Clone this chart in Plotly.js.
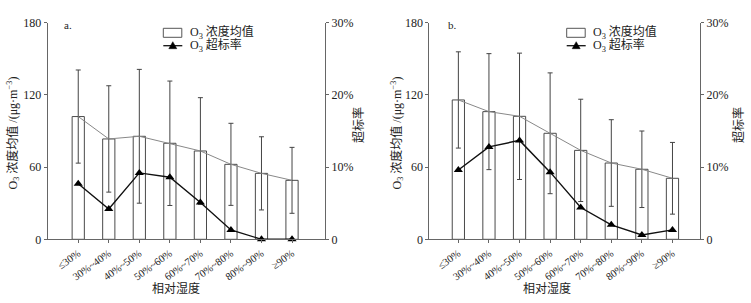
<!DOCTYPE html>
<html>
<head>
<meta charset="utf-8">
<script src="https://cdn.plot.ly/plotly-3.0.1.min.js"></script>
<style>html,body{margin:0;padding:0;background:#fff;}#chart{width:751px;height:303px;}</style>
</head>
<body>
<div id="chart"></div>
<script>
// ---- data ----
const categories = ["≤30%", "30%~40%", "40%~50%", "50%~60%", "60%~70%", "70%~80%", "80%~90%", "≥90%"];
// panel a
const meanA = [102.0, 83.4, 85.6, 79.8, 73.4, 62.3, 54.8, 49.0];
const sdA   = [38.7, 44.2, 55.6, 51.7, 44.3, 34.1, 30.4, 27.4];
const rateA = [7.7, 4.2, 9.2, 8.6, 5.1, 1.3, 0.0, 0.0];
// panel b
const meanB = [115.8, 106.1, 102.2, 88.1, 73.9, 63.4, 58.2, 50.7];
const sdB   = [40.0, 48.2, 52.5, 50.2, 42.5, 36.0, 31.8, 29.8];
const rateB = [9.6, 12.8, 13.7, 9.3, 4.4, 2.0, 0.6, 1.3];
// tick labels
const leftTicks = [0, 60, 120, 180];
const rightTickVals = [0, 10, 20, 30];
const rightTickText = ["0", "10%", "20%", "30%"];
const panelLabels = ["a.", "b."];
const legendTexts = ["O<sub>3</sub> 浓度均值", "O<sub>3</sub> 超标率"];
const yTitle = "O<sub>3</sub> 浓度均值 /(μg·m<sup>−3</sup>)";
const y2Title = "超标率";
const xTitle = "相对湿度";

// ---- layout helpers ----
const W = 751, H = 303;
const px = x => x / W;
const py = y => 1 - y / H;
const FONT = "Liberation Serif, 'Noto Sans CJK SC', serif";
const AX = "#666";

function panelTraces(mean, sd, rate, xa, ya, ya2) {
  return [
    {type: "bar", x: categories, y: mean, width: 0.4, xaxis: xa, yaxis: ya,
     marker: {color: "#fff", line: {color: "#4a4a4a", width: 1}},
     error_y: {type: "data", array: sd, visible: true, color: "#444", thickness: 1, width: 2.5},
     hoverinfo: "skip"},
    {type: "scatter", mode: "lines", x: categories, y: mean, xaxis: xa, yaxis: ya,
     line: {color: "#888", width: 1}, hoverinfo: "skip"},
    {type: "scatter", mode: "lines+markers", x: categories, y: rate, xaxis: xa, yaxis: ya2,
     line: {color: "#111", width: 1.4},
     marker: {symbol: "triangle-up", size: 8, color: "#000"}, cliponaxis: false, hoverinfo: "skip"}
  ];
}

const data = [
  ...panelTraces(meanA, sdA, rateA, "x", "y", "y2"),
  ...panelTraces(meanB, sdB, rateB, "x2", "y3", "y4")
];

const yDom = [py(239.3), py(22.7)];
function xAx(dom, anchor, range) {
  return {domain: dom, anchor: anchor, type: "category", range: range,
    showline: true, linecolor: AX, linewidth: 1, ticks: "outside", ticklen: 3, tickcolor: AX,
    tickangle: -36, tickfont: {family: FONT, size: 10.5, color: "#222"},
    showgrid: false, zeroline: false, automargin: false, fixedrange: true};
}
function yAx(anchor) {
  return {domain: yDom, anchor: anchor, range: [0, 180], tickvals: leftTicks,
    showline: true, linecolor: AX, linewidth: 1, ticks: "outside", ticklen: 3, tickcolor: AX,
    tickfont: {family: FONT, size: 12, color: "#222"},
    showgrid: false, zeroline: false, automargin: false};
}
function yAxR(anchor, over) {
  return {domain: yDom, anchor: anchor, overlaying: over, side: "right", range: [0, 30],
    tickvals: rightTickVals, ticktext: rightTickText,
    showline: true, linecolor: AX, linewidth: 1, ticks: "outside", ticklen: 3, tickcolor: AX,
    tickfont: {family: FONT, size: 12, color: "#222"},
    showgrid: false, zeroline: false, automargin: false};
}

const ann = [];
const shapes = [];
function panelDecor(label, labelX, legX, xTitleX, yTitleX, y2TitleX) {
  ann.push({xref: "paper", yref: "paper", x: px(labelX), y: py(25), text: label, showarrow: false,
    xanchor: "left", yanchor: "middle", font: {family: FONT, size: 11, color: "#222"}});
  ann.push({xref: "paper", yref: "paper", x: px(yTitleX), y: py(133.5), text: yTitle, showarrow: false,
    textangle: -90, xanchor: "center", yanchor: "middle", font: {family: FONT, size: 12, color: "#222"}});
  ann.push({xref: "paper", yref: "paper", x: px(y2TitleX), y: py(125), text: y2Title, showarrow: false,
    textangle: -90, xanchor: "center", yanchor: "middle", font: {family: FONT, size: 12, color: "#222"}});
  ann.push({xref: "paper", yref: "paper", x: px(xTitleX), y: py(288), text: xTitle, showarrow: false,
    xanchor: "center", yanchor: "middle", font: {family: FONT, size: 12, color: "#222"}});
  // legend
  shapes.push({type: "rect", xref: "paper", yref: "paper", x0: px(legX), x1: px(legX + 18.5),
    y0: py(37.3), y1: py(28.3), line: {color: "#555", width: 1}, fillcolor: "#fff"});
  shapes.push({type: "line", xref: "paper", yref: "paper", x0: px(legX), x1: px(legX + 19),
    y0: py(45.7), y1: py(45.7), line: {color: "#111", width: 1.3}});
  const cx = legX + 9.5, cy = 45.7;
  shapes.push({type: "path", xref: "paper", yref: "paper",
    path: `M${px(cx)},${py(cy - 4)} L${px(cx - 4)},${py(cy + 3)} L${px(cx + 4)},${py(cy + 3)} Z`,
    fillcolor: "#000", line: {color: "#000", width: 0.5}});
  ann.push({xref: "paper", yref: "paper", x: px(legX + 24.5), y: py(32.6), text: legendTexts[0], showarrow: false,
    xanchor: "left", yanchor: "middle", font: {family: FONT, size: 12, color: "#222"}});
  ann.push({xref: "paper", yref: "paper", x: px(legX + 24.5), y: py(45.7), text: legendTexts[1], showarrow: false,
    xanchor: "left", yanchor: "middle", font: {family: FONT, size: 12, color: "#222"}});
}
panelDecor(panelLabels[0], 62, 163.3, 176, 13, 358);
panelDecor(panelLabels[1], 446, 566.7, 547, 397, 738);

const layout = {
  width: W, height: H,
  margin: {l: 0, r: 0, t: 0, b: 0, pad: 0},
  paper_bgcolor: "#fff", plot_bgcolor: "rgba(0,0,0,0)",
  showlegend: false,
  font: {family: FONT, size: 12, color: "#222"},
  xaxis: xAx([px(47.7), px(325)], "y", [-1.0, 8.08]),
  yaxis: yAx("x"),
  yaxis2: yAxR("x", "y"),
  xaxis2: xAx([px(429.3), px(700)], "y3", [-0.95, 7.9]),
  yaxis3: yAx("x2"),
  yaxis4: yAxR("x2", "y3"),
  annotations: ann,
  shapes: shapes
};

Plotly.newPlot("chart", data, layout, {staticPlot: true, displayModeBar: false});
</script>
</body>
</html>
